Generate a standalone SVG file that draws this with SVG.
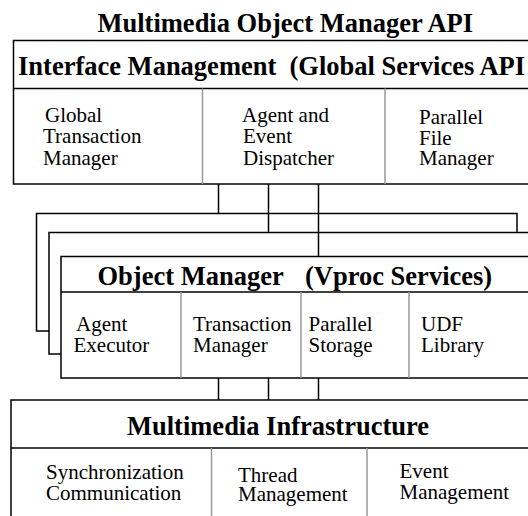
<svg xmlns="http://www.w3.org/2000/svg" width="528" height="516" viewBox="0 0 528 516">
  <style>
    .box { fill: #fff; stroke: #000; stroke-width: 1.5; }
    .rule { stroke: #000; stroke-width: 1.5; fill: none; }
    .div { stroke: #999; stroke-width: 1.5; }
    .wire { stroke: #000; stroke-width: 1.5; fill: none; }
    .hd { font-weight: bold; font-size: 26.5px; fill: #000; }
    .lb { font-size: 21px; fill: #000; }
  </style>
  <rect width="528" height="516" fill="#fff"/>

  <g font-family="Liberation Serif, Times New Roman, DejaVu Serif, serif">
  <text class="hd" x="97.5" y="32">Multimedia Object Manager API</text>

  <!-- connectors between the layers, including the stacked vproc frames -->
  <g id="connectors">
    <path class="wire" d="M218.5,184 V213.5"/>
    <path class="wire" d="M268.5,184 V232.5"/>
    <path class="wire" d="M318.5,184 V256.5"/>
    <path class="wire" d="M49,331 H36.5 V213.5 H517 V232.5"/>
    <path class="wire" d="M61,354 H49 V232.5 H530"/>
    <path class="wire" d="M218.5,378 V400"/>
    <path class="wire" d="M268.5,378 V400"/>
    <path class="wire" d="M318.5,378 V400"/>
  </g>

  <g id="interface-management">
    <rect class="box" x="13.5" y="40.5" width="530" height="143.5"/>
    <line class="rule" x1="13.5" y1="88.5" x2="530" y2="88.5"/>
    <line class="div" x1="202.5" y1="88.5" x2="202.5" y2="184"/>
    <line class="div" x1="385" y1="88.5" x2="385" y2="184"/>
    <text class="hd" x="18" y="75" xml:space="preserve">Interface Management  (Global Services API</text>
    <text class="lb"><tspan x="45" y="121.5">Global</tspan><tspan x="43" y="143">Transaction</tspan><tspan x="43" y="165">Manager</tspan></text>
    <text class="lb"><tspan x="242" y="121.5">Agent and</tspan><tspan x="243" y="143">Event</tspan><tspan x="243" y="164.5">Dispatcher</tspan></text>
    <text class="lb"><tspan x="419" y="124">Parallel</tspan><tspan x="419" y="145">File</tspan><tspan x="419" y="165">Manager</tspan></text>
  </g>

  <g id="object-manager">
    <rect class="box" x="61" y="256.5" width="480" height="121.5"/>
    <line class="rule" x1="61" y1="292" x2="530" y2="292"/>
    <line class="div" x1="181" y1="292" x2="181" y2="378"/>
    <line class="div" x1="301" y1="292" x2="301" y2="378"/>
    <line class="div" x1="409" y1="292" x2="409" y2="378"/>
    <text class="hd" y="285"><tspan x="97.5">Object Manager</tspan><tspan x="305">(Vproc Services)</tspan></text>
    <text class="lb"><tspan x="76" y="331">Agent</tspan><tspan x="73.5" y="352">Executor</tspan></text>
    <text class="lb"><tspan x="193" y="331">Transaction</tspan><tspan x="193" y="352">Manager</tspan></text>
    <text class="lb"><tspan x="308.5" y="331">Parallel</tspan><tspan x="308.5" y="352">Storage</tspan></text>
    <text class="lb"><tspan x="421" y="331">UDF</tspan><tspan x="421" y="352">Library</tspan></text>
  </g>

  <g id="multimedia-infrastructure">
    <rect class="box" x="11" y="400" width="530" height="130"/>
    <line class="rule" x1="11" y1="448" x2="530" y2="448"/>
    <line class="div" x1="211.5" y1="448" x2="211.5" y2="516"/>
    <line class="div" x1="367" y1="448" x2="367" y2="516"/>
    <text class="hd" x="127" y="435">Multimedia Infrastructure</text>
    <text class="lb"><tspan x="46" y="478.5">Synchronization</tspan><tspan x="46" y="500">Communication</tspan></text>
    <text class="lb"><tspan x="238" y="481.5">Thread</tspan><tspan x="238" y="500.5">Management</tspan></text>
    <text class="lb"><tspan x="399.5" y="477.5">Event</tspan><tspan x="399.5" y="498.5">Management</tspan></text>
  </g>
  </g>
</svg>
